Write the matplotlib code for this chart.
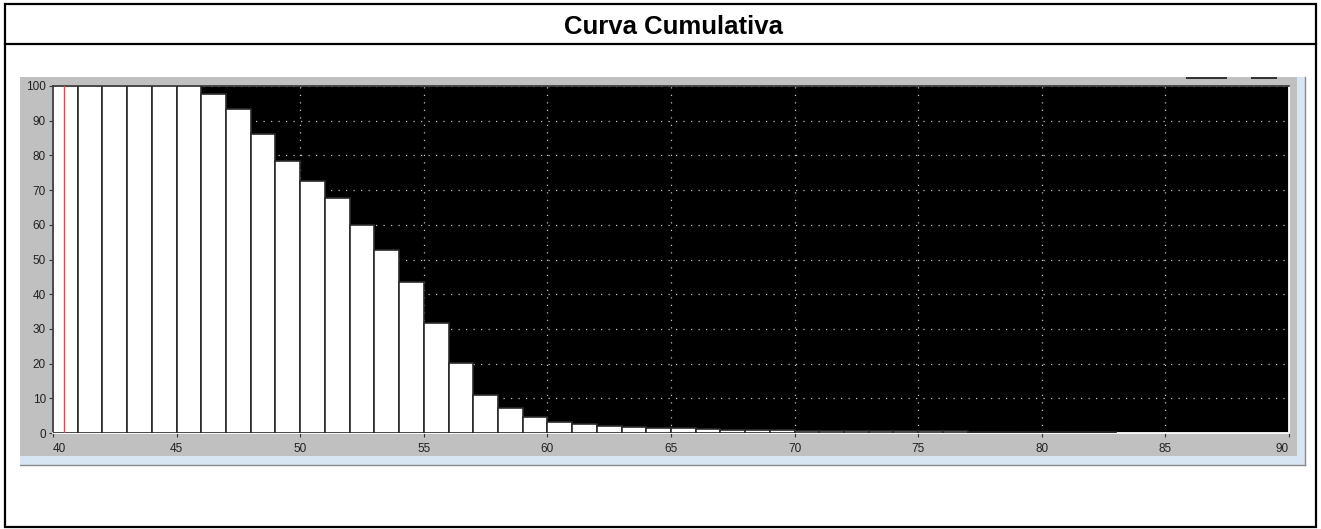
import matplotlib
matplotlib.use("Agg")
import matplotlib.pyplot as plt
from matplotlib.patches import Rectangle
from matplotlib.lines import Line2D

# ---- data ----
bin_left = list(range(40, 83))
cumulative = [100, 100, 100, 100, 100, 100, 97.6, 93.3, 86.2, 78.4,
              72.5, 67.6, 59.9, 52.7, 43.4, 31.8, 20.1, 10.9, 7.3, 4.7,
              3.2, 2.6, 2.1, 1.8, 1.5, 1.35, 1.05, 0.8, 0.8, 0.8,
              0.6, 0.6, 0.5, 0.5, 0.5, 0.5, 0.45, 0.2, 0.2, 0.2,
              0.2, 0.2, 0.2]
marker_x = 40.45
x_ticks = [40, 45, 50, 55, 60, 65, 70, 75, 80, 85, 90]
y_ticks = [0, 10, 20, 30, 40, 50, 60, 70, 80, 90, 100]
title = "Curva Cumulativa"

W, H = 1321, 529
fig = plt.figure(figsize=(W / 100, H / 100), dpi=100)
fig.patch.set_facecolor("white")

def fx(px):
    return px / W

def fy(py):
    return 1 - py / H

def frect(x0, y0, x1, y1, z=-5, **kw):
    fig.add_artist(Rectangle((fx(x0), fy(y1)), fx(x1) - fx(x0), fy(y0) - fy(y1),
                             transform=fig.transFigure, zorder=z, **kw))

def fline(x0, y0, x1, y1, z=-4, **kw):
    fig.add_artist(Line2D([fx(x0), fx(x1)], [fy(y0), fy(y1)],
                          transform=fig.transFigure, zorder=z, **kw))

# outer frame and title row
frect(5, 4, 1316, 527, z=5, fill=False, edgecolor="black", linewidth=1.6)
fline(5, 44, 1316, 44, z=5, color="black", linewidth=1.6)
fig.text(fx(674), fy(27.5), title, ha="center", va="center",
         fontsize=18.5, fontweight="bold", family="Liberation Sans")

# panel background (gray) + light blue strips
frect(1297, 77, 1305, 465, facecolor="#d8e6f4", edgecolor="none")
frect(20, 456, 1305, 465, facecolor="#d8e6f4", edgecolor="none")
fline(20, 465, 1305, 465, color="#8a8a8a", linewidth=1)
fline(1305, 77, 1305, 465, color="#8a8a8a", linewidth=1)
frect(20, 77, 1297, 456, z=-3, facecolor="#c0c0c0", edgecolor="none")
frect(1186, 77, 1227, 79, z=-2, facecolor="#333333", edgecolor="none")
frect(1251, 77, 1277, 79, z=-2, facecolor="#333333", edgecolor="none")

# axes
ax = fig.add_axes([fx(53), fy(433), fx(1289) - fx(53), fy(86) - fy(433)])
ax.set_zorder(1)
ax.set_facecolor("black")
ax.set_xlim(40, 90)
ax.set_ylim(0, 100)

ax.bar(bin_left, cumulative, width=1.0, align="edge", color="white",
       edgecolor="#2a2a2a", linewidth=1.2, zorder=3)
ax.axvline(marker_x, color="#ff3b3b", linewidth=1.0, zorder=4)

ax.set_xticks(x_ticks)
ax.set_yticks(y_ticks)
ax.grid(True, color="#c4c4c4", linestyle=(0, (1, 5)), linewidth=0.9, zorder=1)
ax.set_axisbelow(True)

ax.tick_params(axis="both", labelsize=8.5, colors="#333333", length=3, width=0.8)
ax.tick_params(axis="x", pad=4)
ax.tick_params(axis="y", pad=2)
for lab in ax.get_xticklabels() + ax.get_yticklabels():
    lab.set_family("Liberation Sans")
    lab.set_color("#222222")
xl = ax.get_xticklabels()
xl[0].set_horizontalalignment("left")
xl[-1].set_horizontalalignment("right")

ax.spines["left"].set_color("#404040")
ax.spines["top"].set_color("#404040")
ax.spines["right"].set_color("white")
ax.spines["bottom"].set_color("white")
for s in ax.spines.values():
    s.set_linewidth(1.3)

fig.savefig("out.png", dpi=100, facecolor="white")
